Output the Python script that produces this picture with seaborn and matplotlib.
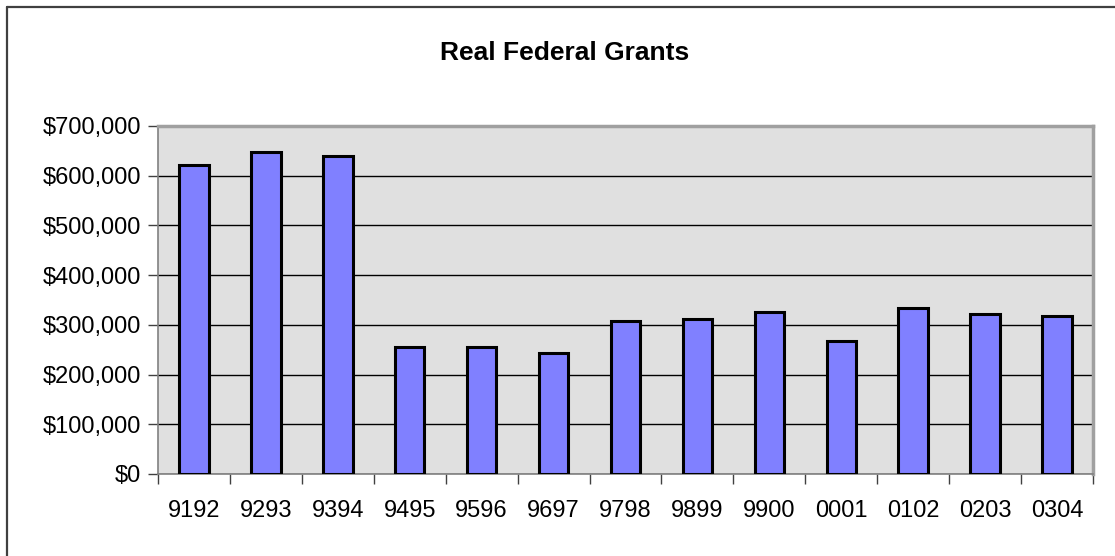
import numpy as np
import pandas as pd
import matplotlib
matplotlib.use("Agg")
import matplotlib.pyplot as plt
from matplotlib.lines import Line2D
from matplotlib.ticker import FuncFormatter, MultipleLocator
import seaborn as sns

# values
years = ["9192", "9293", "9394", "9495", "9596", "9697", "9798",
         "9899", "9900", "0001", "0102", "0203", "0304"]
grants = [621000, 647000, 639000, 256000, 256000, 243000, 308000,
          311000, 326000, 267000, 333000, 321000, 317000]

df = pd.DataFrame({"year": years, "grants": grants})

sns.set_style("white")
plt.rcParams["font.family"] = ["Liberation Sans", "DejaVu Sans"]
plt.rcParams["text.color"] = "black"
plt.rcParams["xtick.color"] = "black"
plt.rcParams["ytick.color"] = "black"

fig = plt.figure(figsize=(11.15, 5.56), dpi=100)
ax = fig.add_axes([0.1417, 0.1475, 0.9803 - 0.1417, 0.7734 - 0.1475])

sns.barplot(data=df, x="year", y="grants", color="#8080FF", saturation=1,
            width=0.41, edgecolor="black", linewidth=2.2, ax=ax, zorder=3)

ax.set_facecolor("#E0E0E0")
ax.set_ylim(0, 700000)
ax.set_xlim(-0.5, len(years) - 0.5)
ax.yaxis.set_major_locator(MultipleLocator(100000))
ax.yaxis.set_major_formatter(FuncFormatter(lambda v, p: "${:,.0f}".format(v)))
ax.grid(axis="y", color="black", linewidth=1.0, zorder=1)
ax.set_axisbelow(True)
ax.set_xlabel("")
ax.set_ylabel("")

# category boundary ticks on the x axis like the original
ax.set_xticks(np.arange(len(years)))
ax.set_xticklabels(years)
ax.set_xticks(np.arange(len(years) + 1) - 0.5, minor=True)
ax.tick_params(axis="x", which="major", length=0, labelsize=17, pad=19)
ax.tick_params(axis="x", which="minor", length=7, width=1, color="#404040", direction="out")
ax.tick_params(axis="y", length=7, width=1, color="#404040", labelcolor="black",
               labelsize=17, pad=5, direction="out")
ax.tick_params(axis="both", bottom=True, left=True, which="both")

for side in ["top", "right"]:
    ax.spines[side].set_color("#A0A0A0")
    ax.spines[side].set_linewidth(2.5)
for side in ["left", "bottom"]:
    ax.spines[side].set_color("#808080")
    ax.spines[side].set_linewidth(1.2)

fig.text(0.5065, 1 - 53 / 556, "Real Federal Grants", ha="center", va="center",
         fontsize=19, fontweight="bold", color="black")

# outer chart border (only top and left fall inside the image)
fig.add_artist(Line2D([7 / 1115, 1], [1 - 6.5 / 556, 1 - 6.5 / 556],
                      transform=fig.transFigure, color="#404040", linewidth=1.6))
fig.add_artist(Line2D([7 / 1115, 7 / 1115], [0, 1 - 6.5 / 556],
                      transform=fig.transFigure, color="#404040", linewidth=1.6))

fig.savefig("out.png", dpi=100)
